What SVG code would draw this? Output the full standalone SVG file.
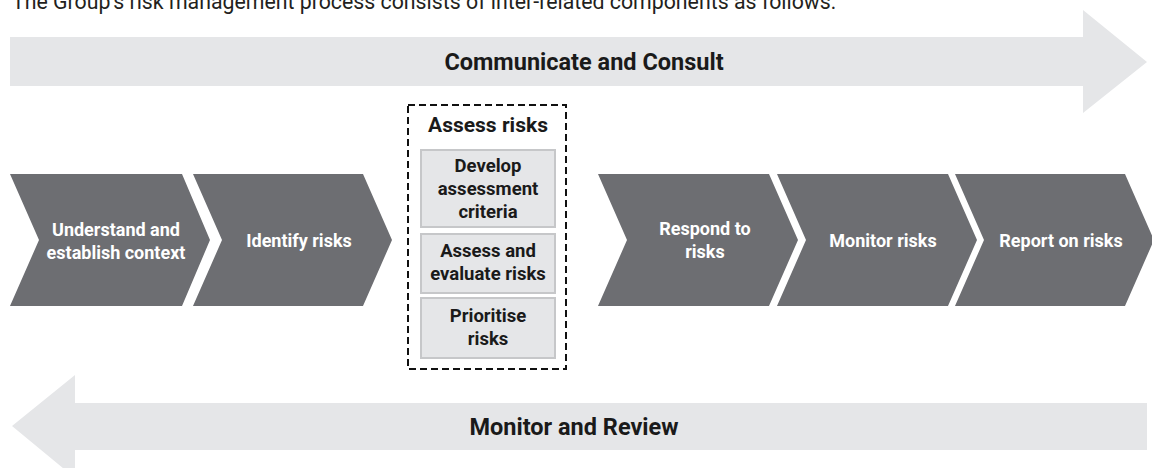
<svg xmlns="http://www.w3.org/2000/svg" width="1152" height="468" viewBox="0 0 1152 468">
<style>
.band{fill:#e5e6e8}
.chev{fill:#6d6e72}
.ct{font-family:Roboto,"Liberation Sans",sans-serif;font-weight:700;font-size:18px;fill:#ffffff;text-anchor:middle}
.bt{font-family:Roboto,"Liberation Sans",sans-serif;font-weight:700;font-size:23.5px;fill:#1a1a1a;text-anchor:middle}
.at{font-family:Roboto,"Liberation Sans",sans-serif;font-weight:700;font-size:21px;fill:#1a1a1a;text-anchor:middle}
.st{font-family:Roboto,"Liberation Sans",sans-serif;font-weight:700;font-size:18.5px;fill:#1a1a1a;text-anchor:middle}
.sub{fill:#e5e6e8;stroke:#c6c7c9;stroke-width:2}
</style>
<text x="12" y="9" style="font-family:Roboto,'Liberation Sans',sans-serif;font-size:21.3px;fill:#231f20">The Group’s risk management process consists of inter-related components as follows:</text>

<g id="communicate">
<polygon class="band" points="10,37 1083,37 1083,10 1147,62 1083,113 1083,86 10,86"/>
<text class="bt" x="584" y="70">Communicate and Consult</text>
</g>

<g id="monitor-review">
<polygon class="band" points="1147,403 75,403 75,375 12,426 75,478 75,450 1147,450"/>
<text class="bt" x="574" y="435">Monitor and Review</text>
</g>

<g id="understand">
<polygon class="chev" points="10,174 182,174 210,240 182,306 10,306 39,240"/>
<text class="ct" x="116" y="236">Understand and</text>
<text class="ct" x="116" y="259">establish context</text>
</g>

<g id="identify">
<polygon class="chev" points="193,174 363,174 392,240 363,306 193,306 222,240"/>
<text class="ct" x="299" y="247">Identify risks</text>
</g>

<g id="assess">
<rect x="408" y="105" width="158" height="264" fill="none" stroke="#111" stroke-width="2" stroke-dasharray="7,4"/>
<text class="at" x="488" y="132">Assess risks</text>
<g id="develop">
<rect class="sub" x="421" y="150" width="134" height="77"/>
<text class="st" x="488" y="172">Develop</text>
<text class="st" x="488" y="195">assessment</text>
<text class="st" x="488" y="218">criteria</text>
</g>
<g id="evaluate">
<rect class="sub" x="421" y="234" width="134" height="59"/>
<text class="st" x="488" y="257">Assess and</text>
<text class="st" x="488" y="280">evaluate risks</text>
</g>
<g id="prioritise">
<rect class="sub" x="421" y="298" width="134" height="60"/>
<text class="st" x="488" y="322">Prioritise</text>
<text class="st" x="488" y="345">risks</text>
</g>
</g>

<g id="respond">
<polygon class="chev" points="598,174 769,174 798,240 769,306 598,306 627,240"/>
<text class="ct" x="705" y="235">Respond to</text>
<text class="ct" x="705" y="258">risks</text>
</g>

<g id="monitor">
<polygon class="chev" points="777,174 948,174 977,240 948,306 777,306 806,240"/>
<text class="ct" x="883" y="247">Monitor risks</text>
</g>

<g id="report">
<polygon class="chev" points="955,174 1125,174 1154,240 1125,306 955,306 984,240"/>
<text class="ct" x="1061" y="247">Report on risks</text>
</g>

<g id="connectors"></g>
</svg>
